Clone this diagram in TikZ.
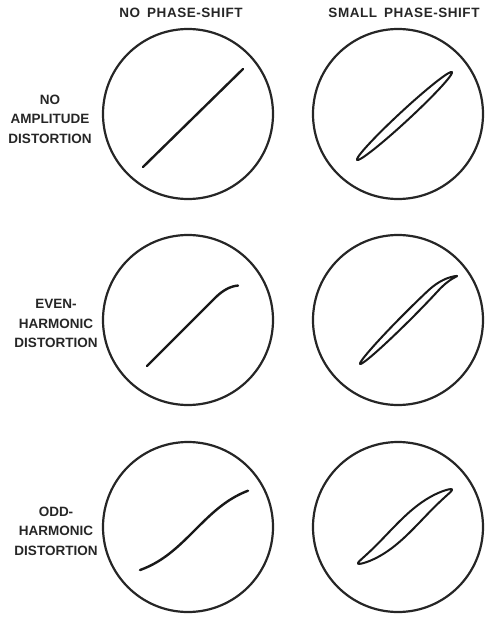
\documentclass[tikz,border=0pt]{standalone}
\usepackage{fontspec}
\setmainfont{Liberation Sans}
\begin{document}
\begin{tikzpicture}[x=1pt,y=-1pt,
  tube/.style={draw=black!85, line width=2.2pt, circle, minimum size=170pt, inner sep=0pt},
  lbl/.style={font=\bfseries\fontsize{13.5}{19.5}\selectfont, align=center, inner sep=0pt, text=black!85},
  hdr/.style={font=\bfseries\fontsize{13.5}{19.5}\selectfont\addfontfeature{LetterSpace=4}, inner sep=0pt, text=black!85},
  trace/.style={line width=2.4pt, line cap=round, line join=round, black!90},
  lissa/.style={line width=2pt, line join=round, black!90}]
\useasboundingbox (0,0) rectangle (496,621);
% headers
\node[hdr] (h1) at (181,13) {NO\hspace{7pt}PHASE-SHIFT};
\node[hdr] (h2) at (404,13) {SMALL\hspace{7pt}PHASE-SHIFT};
% row labels
\node[lbl] (r1) at (50,119) {NO\\AMPLITUDE\\DISTORTION};
\node[lbl] (r2) at (56,323.5) {EVEN-\\HARMONIC\\DISTORTION};
\node[lbl] (r3) at (56,531) {ODD-\\HARMONIC\\DISTORTION};
% screens
\node[tube] (c11) at (188,114) {};
\node[tube] (c12) at (398,114) {};
\node[tube] (c21) at (188,320) {};
\node[tube] (c22) at (398,320) {};
\node[tube] (c31) at (188,527) {};
\node[tube] (c32) at (398,527) {};
% traces
\begin{scope}[shift={(c11.center)}]
  \draw[trace] (-45,53) -- (55,-45);
\end{scope}
\begin{scope}[shift={(c12.center)}]
  \draw[lissa] plot[domain=0:360, samples=145, smooth] ({6.5+47.5*cos(\x)},{-(-2+44*cos(\x-9))}) -- cycle;
\end{scope}
\begin{scope}[shift={(c21.center)}]
  \draw[trace] plot[domain=-41:50, samples=60, smooth] ({\x},{-(\x-5-0.02*max(0,\x-27)^2)});
\end{scope}
\begin{scope}[shift={(c22.center)}]
  \draw[lissa] plot[domain=0:360, samples=145, smooth] ({10.5+48.5*cos(\x)},{-(10.5+48.5*cos(\x-7)-6-0.0156*max(0,10.5+48.5*cos(\x-7)-35)^2)}) -- cycle;
\end{scope}
\begin{scope}[shift={(c31.center)}]
  \draw[trace] plot[domain=-48:60, samples=60, smooth] ({\x},{-(-3+50*tanh((\x-7)/50))});
\end{scope}
\begin{scope}[shift={(c32.center)}]
  \draw[lissa] plot[domain=0:360, samples=145, smooth] ({7+47*cos(\x)},{-(0.5+52*tanh(47*cos(\x-13)/52))}) -- cycle;
\end{scope}
\end{tikzpicture}
\end{document}
